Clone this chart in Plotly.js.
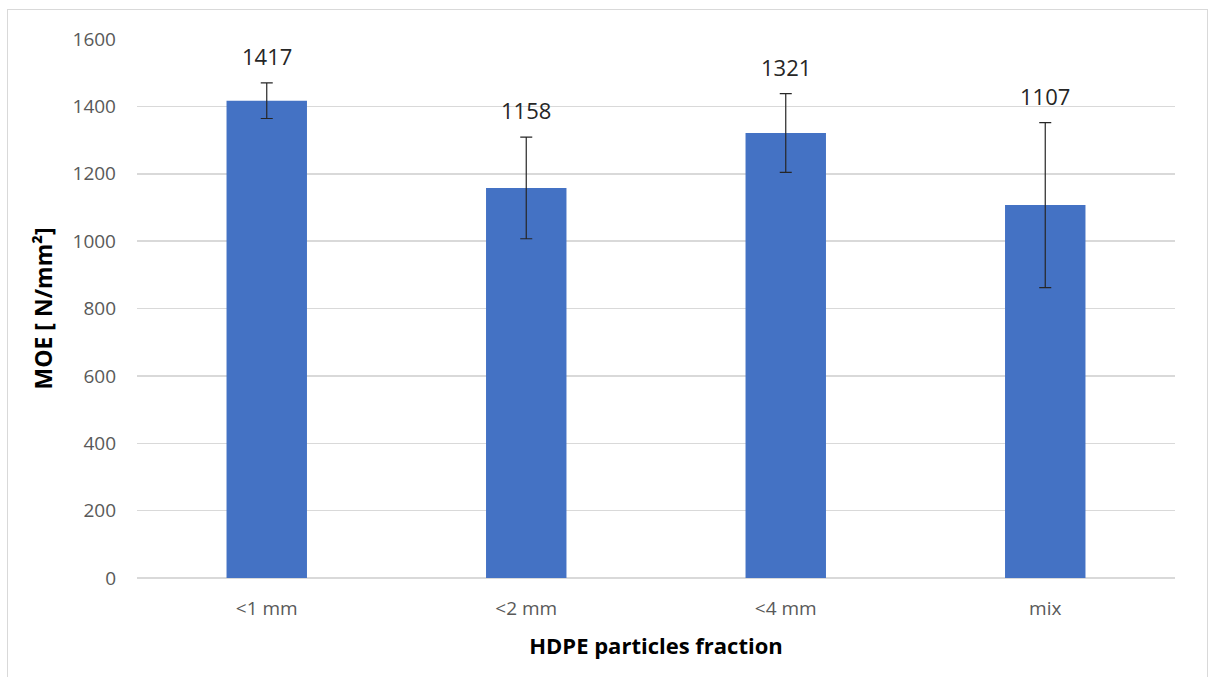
<!DOCTYPE html>
<html>
<head>
<meta charset="utf-8">
<script src="https://cdn.plot.ly/plotly-3.0.1.min.js"></script>
<style>
html,body{margin:0;padding:0;background:#fff;overflow:hidden;}
#chart{width:1213px;height:677px;}
#frame{position:absolute;left:7px;top:9px;width:1199px;height:700px;border:1px solid #d9d9d9;pointer-events:none;}
</style>
</head>
<body>
<div id="chart"></div>
<div id="frame"></div>
<script>
const categories = ['<1 mm', '<2 mm', '<4 mm', 'mix'];
const moeValues = [1417, 1158, 1321, 1107];
const moeErrors = [53, 151, 117, 245];
const yTickVals = [0, 200, 400, 600, 800, 1000, 1200, 1400, 1600];

const font = '"Open Sans", Lato, "Liberation Sans", sans-serif';

const trace = {
  type: 'bar',
  x: categories,
  y: moeValues,
  marker: {color: '#4472c4'},
  error_y: {type: 'data', array: moeErrors, visible: true, color: '#262626', thickness: 1.2, width: 6},
  hoverinfo: 'none'
};

const annotations = categories.map((c, i) => ({
  x: c, y: moeValues[i] + moeErrors[i], xref: 'x', yref: 'y',
  text: String(moeValues[i]), showarrow: false, yanchor: 'bottom', yshift: 10,
  font: {family: font, size: 22, color: '#262626'}
}));

const layout = {
  width: 1213, height: 677,
  margin: {l: 137, r: 38, t: 39, b: 99},
  paper_bgcolor: '#fff', plot_bgcolor: '#fff',
  bargap: 0.69,
  showlegend: false,
  xaxis: {
    type: 'category',
    tickfont: {family: font, size: 19, color: '#595959'},
    ticks: '', ticklabelstandoff: 17,
    showline: false, showgrid: false,
    title: {text: '<b>HDPE particles fraction</b>', font: {family: font, size: 22, color: '#000'}, standoff: 18}
  },
  yaxis: {
    range: [0, 1600],
    tickvals: yTickVals,
    tickfont: {family: font, size: 19, color: '#595959'},
    ticks: '', ticklabelstandoff: 20,
    showgrid: true, gridcolor: '#d9d9d9', gridwidth: 1.5,
    zeroline: true, zerolinecolor: '#d9d9d9', zerolinewidth: 1.5,
    showline: false,
    title: {text: '<b>MOE [ N/mm²]</b>', font: {family: font, size: 23, color: '#000'}, standoff: 13}
  },
  annotations: annotations
};

Plotly.newPlot('chart', [trace], layout, {displayModeBar: false, staticPlot: true});
</script>
</body>
</html>
